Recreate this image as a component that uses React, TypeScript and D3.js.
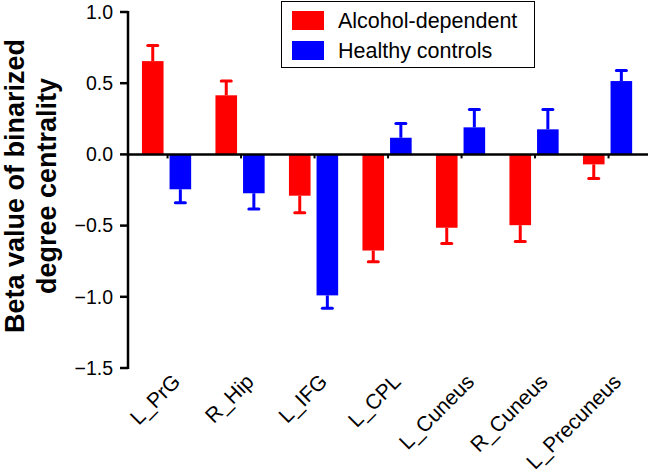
import React from "react";
import * as d3 from "d3";

const categories = ["L_PrG", "R_Hip", "L_IFG", "L_CPL", "L_Cuneus", "R_Cuneus", "L_Precuneus"];
const seriesNames = ["Alcohol-dependent", "Healthy controls"];
const alcoholValues = [0.655, 0.415, -0.29, -0.675, -0.515, -0.497, -0.07];
const alcoholErrors = [0.11, 0.1, 0.12, 0.078, 0.11, 0.115, 0.1];
const controlValues = [-0.245, -0.273, -0.99, 0.117, 0.19, 0.176, 0.515];
const controlErrors = [0.095, 0.11, 0.09, 0.1, 0.125, 0.14, 0.075];
const yTicks = [1.0, 0.5, 0.0, -0.5, -1.0, -1.5];
const colors = ["#ff0000", "#0000ff"];

const W = 650;
const H = 474;
const FONT = "'Liberation Sans', Arial, Helvetica, sans-serif";

export default function App() {
  const y = d3.scaleLinear().domain([-1.5, 1.0]).range([368, 12]);
  const x = d3.scaleBand<string>().domain(categories).range([129.8, 644.3]).padding(0);
  const bw = 21.6;
  const gap = 3;
  const axisX = 128;
  const series = [
    { values: alcoholValues, errors: alcoholErrors, offset: -gap - bw },
    { values: controlValues, errors: controlErrors, offset: gap },
  ];
  const fmt = (v: number) => (v < 0 ? "\u2212" + Math.abs(v).toFixed(1) : v.toFixed(1));

  return (
    <svg
      width={W}
      height={H}
      style={{ position: "absolute", left: 0, top: 0, background: "#fff" }}
      fontFamily={FONT}
    >
      <rect x={0} y={0} width={W} height={H} fill="#fff" />
      {series.map((s, si) =>
        categories.map((c, i) => {
          const cx = (x(c) as number) + x.bandwidth() / 2;
          const v = s.values[i];
          const e = s.errors[i];
          const bx = cx + s.offset;
          const y0 = y(0);
          const yv = y(v);
          const ye = y(v + Math.sign(v) * e);
          const mx = bx + bw / 2;
          return (
            <g key={`${si}-${i}`}>
              <line x1={mx} x2={mx} y1={yv} y2={ye} stroke={colors[si]} strokeWidth={3} />
              <line x1={mx - 5} x2={mx + 5} y1={ye} y2={ye} stroke={colors[si]} strokeWidth={3} strokeLinecap="round" />
              <rect x={bx} y={Math.min(y0, yv)} width={bw} height={Math.abs(yv - y0)} fill={colors[si]} />
            </g>
          );
        })
      )}
      <line x1={axisX} x2={648} y1={y(0)} y2={y(0)} stroke="#000" strokeWidth={2.5} />
      {categories.map((c) => {
        const cx = (x(c) as number) + x.bandwidth() / 2;
        return <line key={c} x1={cx + 1} x2={cx + 1} y1={y(0)} y2={y(0) + 4} stroke="#000" strokeWidth={2} />;
      })}
      <line x1={axisX} x2={axisX} y1={y(1.0) - 1} y2={y(-1.5) + 1} stroke="#000" strokeWidth={2.5} />
      {yTicks.map((t) => (
        <g key={t}>
          <line x1={axisX - 8} x2={axisX} y1={y(t)} y2={y(t)} stroke="#000" strokeWidth={2.5} />
          <text x={axisX - 15} y={y(t)} dy="0.35em" textAnchor="end" fontSize={19.5} fill="#000">
            {fmt(t)}
          </text>
        </g>
      ))}
      {categories.map((c) => {
        const cx = (x(c) as number) + x.bandwidth() / 2;
        return (
          <text
            key={c}
            transform={`translate(${cx + 15},${383}) rotate(-45)`}
            textAnchor="end"
            fontSize={21}
            fill="#000"
          >
            {c}
          </text>
        );
      })}
      <text
        transform={`translate(24,186) rotate(-90)`}
        textAnchor="middle"
        fontSize={27}
        fontWeight="bold"
        fill="#000"
      >
        Beta value of binarized
      </text>
      <text
        transform={`translate(56,186) rotate(-90)`}
        textAnchor="middle"
        fontSize={27}
        fontWeight="bold"
        fill="#000"
      >
        degree centrality
      </text>
      <rect x={281.5} y={1.5} width={253} height={66} fill="#fff" stroke="#000" strokeWidth={1} />
      {seriesNames.map((n, i) => (
        <g key={n}>
          <rect x={292} y={11 + i * 30} width={32} height={19} fill={colors[i]} />
          <text x={338} y={28 + i * 30} fontSize={21.5} fill="#000">
            {n}
          </text>
        </g>
      ))}
    </svg>
  );
}
